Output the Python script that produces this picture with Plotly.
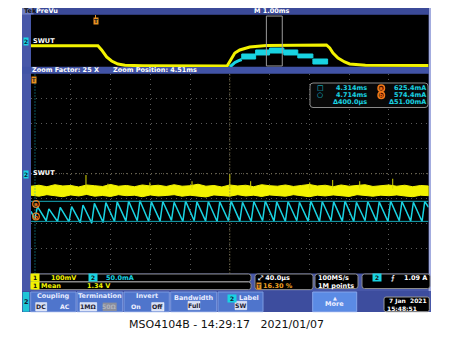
import plotly.graph_objects as go

W, H = 453, 338

# ---------------- DATA ----------------
# Preview window (time in ms relative to trigger, level in divisions)
prev_ch1_t = [-1.61, 0.073, 0.166, 0.292, 0.418, 0.576, 0.752, 1.2, 3.322, 3.433, 3.516,
              3.641, 3.893, 4.312, 5.0, 5.82, 5.903, 5.986, 6.112, 6.279, 6.405, 6.8, 8.39]
prev_ch1_v = [-0.72, -0.72, -1.38, -2.46, -3.08, -3.54, -3.74, -3.8, -3.85, -2.62, -1.85,
              -1.38, -0.92, -0.69, -0.62, -0.6, -1.08, -1.85, -2.62, -3.23, -3.54, -3.74, -3.76]
prev_ch2_rise_t = [3.39, 3.45, 3.52, 3.60, 3.69]
prev_ch2_rise_v = [-4.0, -3.6, -3.3, -3.05, -2.85]
prev_ch2_edges = [3.69, 4.04, 4.39, 4.75, 5.10, 5.48, 5.85]
prev_ch2_hi = [-2.0, -1.38, -1.08, -1.38, -2.0, -2.77]
prev_ch2_lo = [-2.77, -2.15, -1.85, -2.15, -2.6, -3.54]
zoom_window_ms = [4.31, 4.71]

# Main (zoomed) window, time in ms
ch1_t = [4.310, 4.318, 4.326, 4.334, 4.342, 4.350, 4.358, 4.366, 4.374, 4.382, 4.390,
         4.398, 4.406, 4.414, 4.422, 4.430, 4.438, 4.446, 4.454, 4.462, 4.470, 4.478,
         4.486, 4.494, 4.502, 4.510, 4.518, 4.526, 4.534, 4.542, 4.550, 4.558, 4.566,
         4.574, 4.582, 4.590, 4.598, 4.606, 4.614, 4.622, 4.630, 4.638, 4.646, 4.654,
         4.662, 4.670, 4.678, 4.686, 4.694, 4.702, 4.710]
ch1_upper = [-0.50, -0.46, -0.52, -0.44, -0.49, -0.47, -0.53, -0.45, -0.48, -0.51, -0.43,
             -0.50, -0.47, -0.52, -0.45, -0.49, -0.46, -0.51, -0.44, -0.50, -0.48, -0.42,
             -0.50, -0.47, -0.53, -0.45, -0.49, -0.46, -0.52, -0.44, -0.48, -0.50, -0.45,
             -0.51, -0.47, -0.43, -0.49, -0.46, -0.52, -0.45, -0.50, -0.47, -0.44, -0.51,
             -0.48, -0.45, -0.50, -0.46, -0.52, -0.47, -0.49]
ch1_lower = [-0.86, -0.90, -0.84, -0.88, -0.92, -0.85, -0.89, -0.83, -0.90, -0.87, -0.91,
             -0.84, -0.88, -0.86, -0.92, -0.85, -0.89, -0.87, -0.84, -0.90, -0.86, -0.88,
             -0.93, -0.85, -0.87, -0.90, -0.84, -0.89, -0.86, -0.91, -0.85, -0.88, -0.90,
             -0.84, -0.87, -0.92, -0.86, -0.89, -0.85, -0.88, -0.91, -0.84, -0.87, -0.90,
             -0.86, -0.88, -0.85, -0.89, -0.92, -0.86, -0.88]
spike_t = [4.3653, 4.3874, 4.4296, 4.4720, 4.5100, 4.5310, 4.5904, 4.6135, 4.6407, 4.6739]
spike_top = [-0.05, -0.40, -0.35, -0.30, -0.02, -0.30, -0.35, -0.25, -0.30, -0.20]

ch2_peak_t = [4.3165, 4.3280, 4.3394, 4.3509, 4.3623, 4.3738, 4.3853, 4.3967, 4.4082,
              4.4196, 4.4311, 4.4426, 4.4540, 4.4655, 4.4769, 4.4884, 4.4999, 4.5113,
              4.5228, 4.5342, 4.5457, 4.5572, 4.5686, 4.5801, 4.5915, 4.6030, 4.6145,
              4.6259, 4.6374, 4.6488, 4.6603, 4.6718, 4.6832, 4.6947, 4.7061]
ch2_peak_mA = [612, 606, 610, 612, 616, 620, 622, 624, 626, 627, 624, 625, 623, 626, 624,
               625, 624, 626, 623, 625, 626, 624, 625, 623, 626, 625, 624, 626, 623, 625,
               624, 626, 625, 623, 625]
ch2_trough_t = [4.3138, 4.3253, 4.3367, 4.3482, 4.3596, 4.3711, 4.3826, 4.3940, 4.4055,
                4.4169, 4.4284, 4.4399, 4.4513, 4.4628, 4.4742, 4.4857, 4.4972, 4.5086,
                4.5201, 4.5315, 4.5430, 4.5545, 4.5659, 4.5774, 4.5888, 4.6003, 4.6118,
                4.6232, 4.6347, 4.6461, 4.6576, 4.6691, 4.6805, 4.6920, 4.7034]
ch2_trough_mA = [580, 576, 574, 573, 571, 570, 572, 574, 575, 576, 574, 575, 577, 574, 576,
                 575, 574, 576, 575, 574, 576, 575, 574, 576, 575, 574, 576, 575, 574, 576,
                 575, 574, 576, 575, 574]
ch2_start = (4.3100, 600)
ch2_end = (4.7100, 610)

cursor_t = [4.314, 4.714]
cursor_mA = [625.4, 574.4]

# ---------------- STYLE ----------------
YEL = "#f2f200"
CYA = "#19d3e2"
CUR = "#17a9b8"
ORG = "#f07818"
FRAME = "#4757a8"
HDR = "#3b4a98"
BTN = "#4f75cc"
BTNL = "#7d9be0"
FONT = "DejaVu Sans, Arial"


def px(x):
    return x / W


def py(y):
    return 1 - y / H


shapes = []
annotations = []


def rect(x0, y0, x1, y1, fill, line=None, lw=1):
    shapes.append(dict(type="rect", xref="paper", yref="paper", x0=px(x0), x1=px(x1),
                       y0=py(y1), y1=py(y0), fillcolor=fill,
                       line=dict(color=line or fill, width=lw if line else 0), layer="below"))


def rrect(x0, y0, x1, y1, r, fill, line, lw=1, layer="below"):
    p = (f"M{px(x0 + r)},{py(y0)} L{px(x1 - r)},{py(y0)} Q{px(x1)},{py(y0)} {px(x1)},{py(y0 + r)} "
         f"L{px(x1)},{py(y1 - r)} Q{px(x1)},{py(y1)} {px(x1 - r)},{py(y1)} "
         f"L{px(x0 + r)},{py(y1)} Q{px(x0)},{py(y1)} {px(x0)},{py(y1 - r)} "
         f"L{px(x0)},{py(y0 + r)} Q{px(x0)},{py(y0)} {px(x0 + r)},{py(y0)} Z")
    shapes.append(dict(type="path", xref="paper", yref="paper", path=p, fillcolor=fill,
                       line=dict(color=line, width=lw), layer=layer))


def txt(x, y, s, color="white", size=7, anchor="left", bold=False, bg=None, fam=FONT):
    if bold:
        s = "<b>" + s + "</b>"
    a = dict(x=px(x), y=py(y), xref="paper", yref="paper", text=s, showarrow=False,
             xanchor=anchor, yanchor="middle", font=dict(color=color, size=size, family=fam),
             borderpad=0)
    if bg:
        a["bgcolor"] = bg
    annotations.append(a)


# screen frame
rect(22, 8, 431, 312, FRAME)
rect(428.6, 8, 431, 291, "#a3acdf")
rect(22, 8, 429, 14.7, HDR)
rect(22, 8, 33.5, 14.7, "#6f7fc4")
rect(22, 66.8, 429, 73.8, "#4153a6")
rect(22, 291, 429, 312, "#3d4d9e")
# black display areas (preview + main graticule)
rect(31, 14.7, 428.6, 66.8, "#000000")
rect(31, 73.8, 428.6, 273.5, "#000000")

# header texts
txt(22.5, 11.4, "Tek", color="#111111", size=6.5, bold=True)
txt(35, 11.4, "PreVu", size=6.5, bold=True)
txt(272, 11.4, "M 1.00ms", size=6.5, bold=True, anchor="center")
txt(31, 70.3, "Zoom Factor: 25 X", size=6.5, bold=True)
txt(112, 70.3, "Zoom Position: 4.51ms", size=6.5, bold=True)

# channel markers
txt(23, 41.5, "2", color="#0b2a40", size=6, bold=True, bg=CYA)
txt(32, 40.5, "SWUT", size=6.5, bold=True)
txt(23, 174.5, "2", color="#0b2a40", size=6, bold=True, bg=CYA)
txt(32, 172.5, "SWUT", size=6.5, bold=True)

# trigger markers
txt(95.5, 20.5, "T", color="#222", size=5.5, bold=True, bg="#e89020", anchor="center")
shapes.append(dict(type="line", xref="paper", yref="paper", x0=px(95.5), x1=px(95.5),
                   y0=py(18), y1=py(15), line=dict(color="#e89020", width=1)))
txt(33.5, 79.5, "T", color="#222", size=5, bold=True, bg="#e89020", anchor="center")

# cursor markers a / b
for yy, lab in [(204, "a"), (216.5, "b")]:
    shapes.append(dict(type="circle", xref="paper", yref="paper", x0=px(32.7), x1=px(39.3),
                       y0=py(yy + 3.3), y1=py(yy - 3.3), line=dict(color=ORG, width=1.2),
                       fillcolor="rgba(0,0,0,0)"))
    txt(36, yy, lab, color=ORG, size=5.5, bold=True, anchor="center")

# cursor readout box
rrect(310, 83, 428, 107.5, 3, "#080808", "#8a8a8a", 1, layer="above")
txt(315.5, 88.3, "□", color=CYA, size=7)
txt(315.5, 95.3, "○", color=CYA, size=7)
txt(367.5, 88.3, "4.314ms", color=CYA, size=6.5, anchor="right", bold=True)
txt(367.5, 95.3, "4.714ms", color=CYA, size=6.5, anchor="right", bold=True)
txt(367.5, 102.3, "Δ400.0µs", color=CYA, size=6.5, anchor="right", bold=True)
for yy, lab in [(88.3, "a"), (95.3, "b")]:
    shapes.append(dict(type="circle", xref="paper", yref="paper", x0=px(378), x1=px(384.5),
                       y0=py(yy + 3.2), y1=py(yy - 3.2), line=dict(color=ORG, width=1.5),
                       fillcolor="#401000", layer="above"))
    txt(381.3, yy, lab, color=ORG, size=5.5, bold=True, anchor="center")
txt(427, 88.3, "625.4mA", color=CYA, size=6.5, anchor="right", bold=True)
txt(427, 95.3, "574.4mA", color=CYA, size=6.5, anchor="right", bold=True)
txt(427, 102.3, "Δ51.00mA", color=CYA, size=6.5, anchor="right", bold=True)

# status bars
rrect(31, 274, 251, 281.6, 2.5, "#000", "#8c8c8c")
rrect(31, 282, 251, 289.6, 2.5, "#000", "#8c8c8c")
rrect(255, 274, 313, 289.6, 2.5, "#000", "#8c8c8c")
rrect(315, 274, 358, 288.5, 2.5, "#000", "#8c8c8c")
rrect(362, 274, 430, 288.5, 2.5, "#000", "#8c8c8c")
txt(35, 277.8, " 1 ", color="#111", size=6, bold=True, bg=YEL, anchor="center")
txt(50, 277.8, "100mV", color=YEL, size=6.5, bold=True)
txt(93, 277.8, " 2 ", color="#111", size=6, bold=True, bg=CYA, anchor="center")
txt(105, 277.8, "50.0mA", color=CYA, size=6.5, bold=True)
txt(35, 285.8, " 1 ", color="#111", size=6, bold=True, bg=YEL, anchor="center")
txt(40, 285.8, "Mean", color=YEL, size=6.5, bold=True)
txt(86, 285.8, "1.34 V", color=YEL, size=6.5, bold=True)
txt(256.5, 277.8, "⤢ 40.0µs", size=6.5, bold=True)
txt(258.5, 285.8, "T", color="#222", size=5, bold=True, bg="#e89020", anchor="center")
txt(262, 285.8, "16.30 %", color="#f0a020", size=6.5, bold=True)
txt(317, 277.8, "100MS/s", size=6.5, bold=True)
txt(317, 285.8, "1M points", size=6.5, bold=True)
txt(376.5, 277.8, " 2 ", color="#111", size=6, bold=True, bg=CYA, anchor="center")
txt(390, 277.8, "⨍", size=6.5, bold=True)
txt(427.5, 277.8, "1.09 A", size=6.5, bold=True, anchor="right")

# bottom buttons
rect(22.7, 292, 29.3, 311.7, "#1fc6d6")
txt(26, 302, "2", color="#123", size=6.5, bold=True, anchor="center")
buttons = [(30.7, 76, "Coupling"), (77, 122.7, "Termination"), (124, 169.3, "Invert"),
           (170.7, 216.7, "Bandwidth"), (218, 263, "Label")]
for x0, x1, title in buttons:
    rect(x0, 292, x1, 311.7, BTN, BTNL, 1)
for (x0, x1, title), yy in zip(buttons, [296.3, 296.3, 296.3, 298.3, 298.3]):
    if title == "Label":
        txt(226.5, yy, " 2 ", color="#123", size=6, bold=True, bg=CYA)
        txt(238, yy, "Label", color="#e8ecff", size=6.5, bold=True)
    else:
        txt((x0 + x1) / 2, yy, title, color="#e8ecff", size=6.5, bold=True, anchor="center")
rect(312.7, 292, 356.7, 311.7, "#5b8be4", "#86a6ec", 1)
txt(334.7, 297.8, "▲", color="#eef", size=5, anchor="center")
txt(334.7, 304.2, "More", color="#eef", size=6.5, bold=True, anchor="center")

opts = [(35.7, 46.7, "DC", True), (60, 69, "AC", False), (80, 96.7, "1MΩ", True),
        (102.7, 116.7, "50Ω", "gray"), (130, 141, "On", False), (151.7, 164, "Off", True),
        (188, 200, "Full", True), (235, 246.7, "SW", True)]
for x0, x1, lab, hl in opts:
    yy = 306.8 if lab not in ("Full", "SW") else 305.5
    if hl is True:
        rect(x0, yy - 4.2, x1, yy + 4.2, "#d6def5", "#ffffff", 0.5)
        txt((x0 + x1) / 2, yy, lab, color="#223", size=6.2, bold=True, anchor="center")
    elif hl == "gray":
        rect(x0, yy - 4.2, x1, yy + 4.2, "#8a8e9c")
        txt((x0 + x1) / 2, yy, lab, color="#b0b4bf", size=6.2, bold=True, anchor="center")
    else:
        txt((x0 + x1) / 2, yy, lab, color="#f0f0ff", size=6.2, bold=True, anchor="center")

rrect(384, 297, 429.3, 311.7, 2, "#000", "#9a9a9a")
txt(428, 300.9, "7 Jan\u00a0\u00a02021", size=6, bold=True, anchor="right")
txt(386, 308.0, "15:48:51", size=6, bold=True)

# caption
txt(226.5, 324.5, "MSO4104B - 14:29:17\u00a0\u00a0\u00a02021/01/07", color="#111", size=11,
    anchor="center", fam="DejaVu Sans, Arial")

# ---------------- TRACES ----------------
fig = go.Figure()
# preview
fig.add_trace(go.Scatter(x=prev_ch1_t, y=prev_ch1_v, mode="lines", line=dict(color=YEL, width=3),
                         xaxis="x", yaxis="y", hoverinfo="skip"))
fig.add_trace(go.Scatter(x=prev_ch2_rise_t, y=prev_ch2_rise_v, mode="lines",
                         line=dict(color=CYA, width=3), xaxis="x", yaxis="y", hoverinfo="skip"))
for i in range(len(prev_ch2_hi)):
    e0, e1 = prev_ch2_edges[i], prev_ch2_edges[i + 1]
    fig.add_trace(go.Scatter(x=[e0, e1, e1, e0, e0],
                             y=[prev_ch2_lo[i], prev_ch2_lo[i], prev_ch2_hi[i], prev_ch2_hi[i], prev_ch2_lo[i]],
                             mode="lines", fill="toself", fillcolor=CYA, line=dict(color=CYA, width=1),
                             xaxis="x", yaxis="y", hoverinfo="skip"))
# zoom box in preview
shapes.append(dict(type="rect", xref="x", yref="y domain", x0=zoom_window_ms[0], x1=zoom_window_ms[1],
                   y0=0.02, y1=0.98, line=dict(color="#9a9a9a", width=1)))

# centre lines of the main graticule (slightly brighter dotted)
shapes.append(dict(type="line", xref="x2 domain", yref="y2 domain", x0=0.5, x1=0.5, y0=0, y1=1,
                   line=dict(color="#8a7f55", width=1, dash="1px,2px")))
shapes.append(dict(type="line", xref="x2 domain", yref="y2 domain", x0=0, x1=1, y0=0.5, y1=0.5,
                   line=dict(color="#7a7255", width=1, dash="1px,3px")))

# main: ch1 band
fig.add_trace(go.Scatter(x=ch1_t + ch1_t[::-1], y=ch1_upper + ch1_lower[::-1], mode="lines",
                         fill="toself", fillcolor=YEL, line=dict(color=YEL, width=1),
                         xaxis="x2", yaxis="y2", hoverinfo="skip"))
sx, sy = [], []
for t, top in zip(spike_t, spike_top):
    sx += [t, t, None]
    sy += [-0.6, top, None]
fig.add_trace(go.Scatter(x=sx, y=sy, mode="lines", line=dict(color="#d8d800", width=1),
                         xaxis="x2", yaxis="y2", hoverinfo="skip"))

# main: ch2 sawtooth
cx, cy = [ch2_start[0]], [ch2_start[1]]
for tt, tv, pt, pv in zip(ch2_trough_t, ch2_trough_mA, ch2_peak_t, ch2_peak_mA):
    cx += [tt, pt]
    cy += [tv, pv]
cx.append(ch2_end[0])
cy.append(ch2_end[1])
fig.add_trace(go.Scatter(x=cx, y=cy, mode="lines", line=dict(color=CYA, width=1.5),
                         xaxis="x2", yaxis="y3", hoverinfo="skip"))
for v in cursor_mA:
    fig.add_trace(go.Scatter(x=[4.31, 4.71], y=[v, v], mode="lines", line=dict(color=CUR, width=1),
                             xaxis="x2", yaxis="y3", hoverinfo="skip"))
shapes.append(dict(type="line", xref="x2", yref="y2 domain", x0=cursor_t[0], x1=cursor_t[0],
                   y0=0, y1=1, line=dict(color=CUR, width=1, dash="1px,2px")))

hidden = dict(showgrid=False, zeroline=False, showticklabels=False, ticks="", showline=False)
xd = [px(31), px(428.6)]
fig.update_layout(
    width=W, height=H, margin=dict(l=0, r=0, t=0, b=0),
    paper_bgcolor="white", plot_bgcolor="black", showlegend=False,
    xaxis=dict(domain=xd, range=[-1.61, 8.39], anchor="y", **hidden),
    yaxis=dict(domain=[py(67), py(15)], range=[-4, 4], anchor="x", **hidden),
    xaxis2=dict(domain=xd, range=[4.31, 4.71], anchor="y2", showgrid=True, gridcolor="#5a5a5a",
                griddash="1px,4px", gridwidth=1, dtick=0.04, tick0=4.31, zeroline=False,
                showticklabels=False, ticks="", showline=False),
    yaxis2=dict(domain=[py(273.5), py(74)], range=[-4, 4], anchor="x2", showgrid=True,
                gridcolor="#5a5a5a", griddash="1px,4px", gridwidth=1, dtick=1, tick0=0,
                zeroline=False, showticklabels=False, ticks="", showline=False),
    yaxis3=dict(overlaying="y2", range=[441.8, 949.25], anchor="x2", **hidden),
    shapes=shapes, annotations=annotations,
)
fig.write_html("out.html")
